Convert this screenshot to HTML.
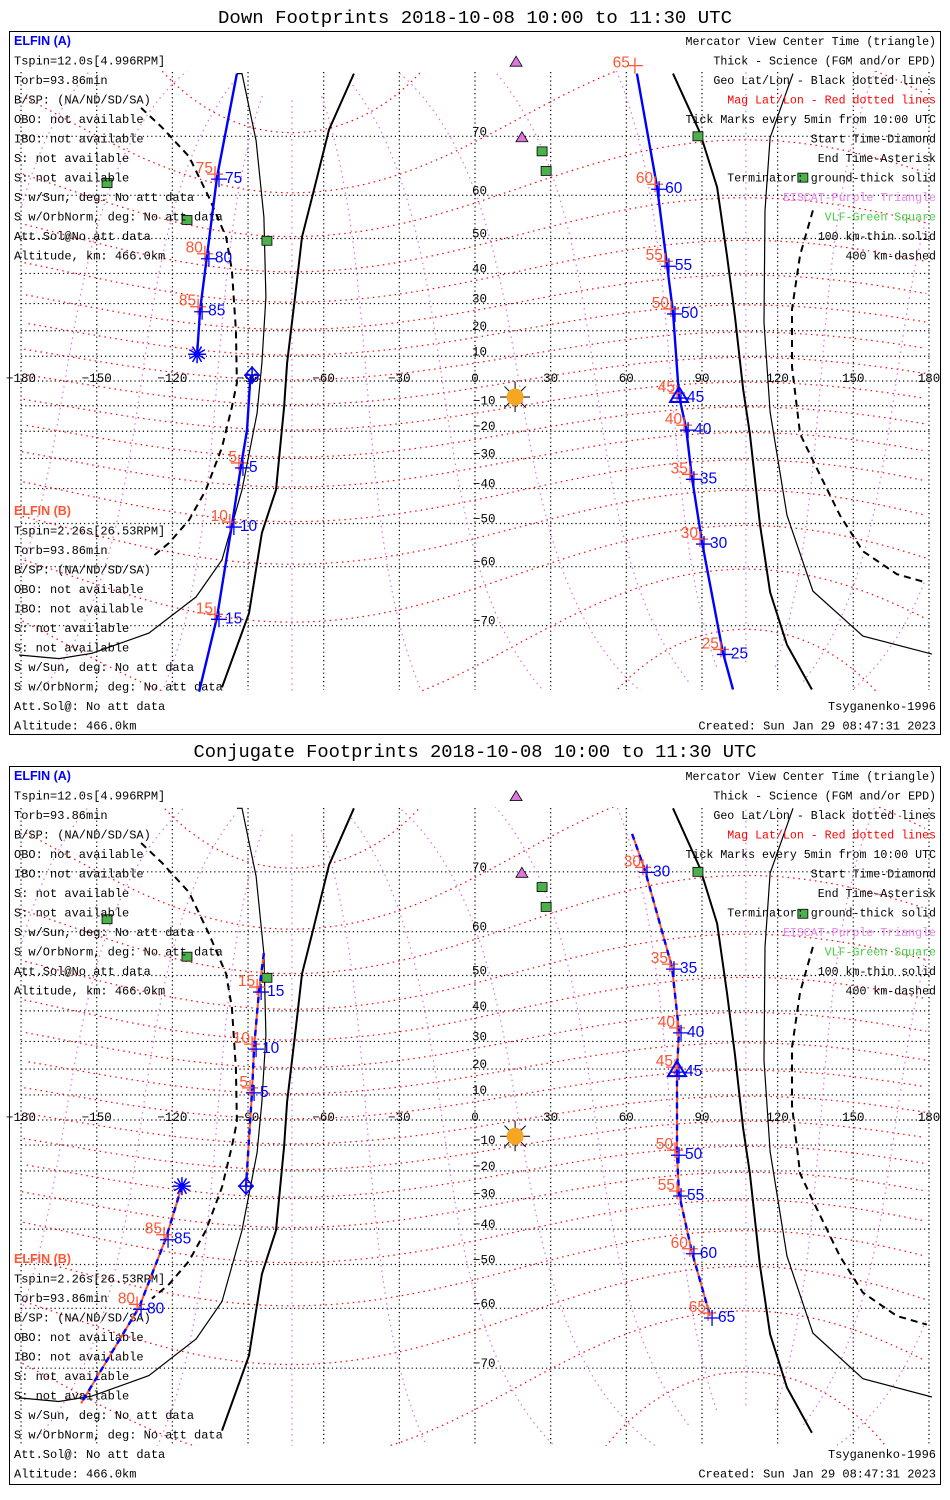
<!DOCTYPE html>
<html><head><meta charset="utf-8"><title>ELFIN Footprints</title>
<style>
html,body{margin:0;padding:0;background:#fff;}
svg{display:block;font-family:"Liberation Mono",monospace;}
</style></head>
<body>
<svg id="chart" width="950" height="1500" viewBox="0 0 950 1500" xmlns="http://www.w3.org/2000/svg">
<defs>
<clipPath id="clip0"><rect x="19" y="71" width="913" height="620"/></clipPath>
<clipPath id="clip1"><rect x="19" y="807" width="913" height="639"/></clipPath>
</defs>
<rect x="0" y="0" width="950" height="1500" fill="#fff"/>
<rect x="9.5" y="31.5" width="931" height="703" fill="none" stroke="#000" stroke-width="1"/>
<rect x="9.5" y="766.5" width="931" height="718" fill="none" stroke="#000" stroke-width="1"/>
<text x="475" y="23" text-anchor="middle" font-size="18.5" textLength="514" lengthAdjust="spacingAndGlyphs">Down Footprints 2018-10-08 10:00 to 11:30 UTC</text>
<text x="475" y="757" text-anchor="middle" font-size="18.5" textLength="563" lengthAdjust="spacingAndGlyphs">Conjugate Footprints 2018-10-08 10:00 to 11:30 UTC</text>
<g id="layer"></g>
</svg>
<script>
// ---------- data (geographic lon/lat) ----------
const lonTicks = [-180,-150,-120,-90,-60,-30,0,30,60,90,120,150,180];
const latTicks = [-70,-60,-50,-40,-30,-20,-10,0,10,20,30,40,50,60,70];

// terminator & altitude curves
const termGroundLon = [-48,-57.9,-64.6,-68.6,-71,-74.5,-75.7,-78.9,-84.5,-89.6,-100.3];
const termGroundLat = [77.1,70.9,59.6,50.4,34.7,7.3,-10.5,-40.4,-52.4,-68.2,-77];
const term100Lon = [-94.4,-92.4,-86.8,-83.7,-82.9,-84.5,-86.4,-92.4,-100.3,-110.6,-129.3,-151.9,-165,-180.8];
const term100Lat = [77.1,77.1,69.4,55.3,32.2,7.3,-12.9,-40.4,-58.6,-65.6,-71,-73.5,-74.1,-73.7];
const term400Lon = [-132.4,-124.1,-113.4,-105.5,-98.7,-96.4,-94.8,-94.4,-96.4,-100.3,-106.7,-113.4,-121.3,-128.1];
const term400Lat = [73.6,71.2,67,59.6,50.4,41,20.3,-0.8,-10.5,-26,-40.4,-49.1,-54.8,-58];
const termGroundRLon = [78.5,89.2,96,99.9,103.1,106.3,109,113,117,123.7,133.6];
const termGroundRLat = [77.1,70.5,61.6,45.5,25.2,-3.2,-21,-50.3,-64.8,-72.5,-77.2];
const term100RLon = [126.1,117,115,114.6,117,123.7,134,153.8,181.2];
const term100RLat = [77.1,69.8,56.8,23.2,-12.5,-47.8,-64.6,-71.4,-73.6];
const term400RLon = [134,128.9,125.7,125.7,128.9,134,144.7,153.8,167.3,179.2];
const term400RLat = [56.8,45.5,28,5.7,-21,-30.7,-47.8,-56.7,-61.5,-63.1];

// Down footprints tracks
const downA1Lon = [-94.4,-102.3,-106.3,-109,-110.2];
const downA1Lat = [77.1,63.5,45,27.8,10.8];
const downA2Lon = [-88.4,-89.2,-90.4,-92.8,-96.4,-102.3,-109.4];
const downA2Lat = [2.4,-0.8,-19.6,-32.6,-50.4,-68.8,-77.4];
const downA3Lon = [64.2,72.2,76.1,78.5,80.9,83.7,86,90,98.3,102.3];
const downA3Lat = [77.1,61.6,42.8,27,-6.1,-18.8,-36.4,-54.6,-73.4,-77.2];
const downTickLon = [-102.3,-106.3,-109,-92.8,-96.4,-102.3,72.2,76.1,78.5,80.9,83.7,86,90,98.3];
const downTickLat = [63.5,45,27.8,-32.6,-50.4,-68.8,61.6,42.8,27,-6.1,-18.8,-36.4,-54.6,-73.4];
const downTickLbl = ["75","80","85","5","10","15","60","55","50","45","40","35","30","25"];

// Conjugate footprints tracks
const conjA1Lon = [-83.7,-85.6,-87.6,-88.4,-90.8];
const conjA1Lat = [55.4,46.1,28,11.6,-25.6];
const conjA2Lon = [-116.2,-122.5,-133.2,-156.2];
const conjA2Lat = [-25.6,-42.6,-59.8,-74.3];
const conjA3Lon = [62.3,67.4,78.1,80.9,80.1,80.1,80.9,86,93.2];
const conjA3Lat = [74.6,70.2,52.1,33.6,19.6,-13.2,-28.4,-46.6,-61.5];
const conjTickLon = [-85.6,-87.6,-88.4,-122.5,-133.2,67.4,78.1,80.9,80.1,80.1,80.9,86,93.2];
const conjTickLat = [46.1,28,11.6,-42.6,-59.8,70.2,52.1,33.6,19.6,-13.2,-28.4,-46.6,-61.5];
const conjTickLbl = ["15","10","5","85","80","30","35","40","45","50","55","60","65"];

// ground stations
const vlfLon = [-145.9,-114.2,-82.5,26.6,28.2,88.4,130];
const vlfLat = [62.4,54.6,49.4,67.8,64.6,70,63.4];
const eiscatLon = [16.3,18.6];
const eiscatLat = [78.1,69.8];
const sunLon = 15.9, sunLat = -6.5;

const leftA = ["Tspin=12.0s[4.996RPM]","Torb=93.86min","B/SP: (NA/ND/SD/SA)","OBO: not available","IBO: not available","S: not available","S: not available","S w/Sun, deg: No att data","S w/OrbNorm, deg: No att data","Att.Sol@No att data","Altitude, km: 466.0km"];
const leftB = ["Tspin=2.26s[26.53RPM]","Torb=93.86min","B/SP: (NA/ND/SD/SA)","OBO: not available","IBO: not available","S: not available","S: not available","S w/Sun, deg: No att data","S w/OrbNorm, deg: No att data","Att.Sol@: No att data","Altitude: 466.0km"];
const legendLines = ["Mercator View Center Time (triangle)","Thick - Science (FGM and/or EPD)","Geo Lat/Lon - Black dotted lines","Mag Lat/Lon - Red dotted lines","Tick Marks every 5min from 10:00 UTC","Start Time-Diamond","End Time-Asterisk","Terminator: ground-thick solid","EISCAT-Purple Triangle","VLF-Green Square","100 km-thin solid","400 km-dashed"];
const legendColors = ["#000","#000","#000","#f00","#000","#000","#000","#000","#ee82ee","#4c4","#000","#000"];

// ---------- rendering ----------
const NS = "http://www.w3.org/2000/svg";
const layer = document.getElementById("layer");
const panels = [
  {y0:381,k:141,top:72,bot:690,clip:"url(#clip0)",base:31},
  {y0:1120,k:143,top:808,bot:1445,clip:"url(#clip1)",base:766}
];
function xS(lon){return 475 + lon*2.522;}
function yS(p,lat){const r=Math.min(Math.max(lat,-85),85)*Math.PI/180;return p.y0 - p.k*Math.log(Math.tan(Math.PI/4 + r/2));}
function mk(tag, attrs, parent){
  const e=document.createElementNS(NS,tag);
  for(const a in attrs) e.setAttribute(a, attrs[a]);
  (parent||layer).appendChild(e); return e;
}
function poly(p, lons, lats, style, name, parent){
  let d="";
  for(let i=0;i<lons.length;i++) d += (i?"L":"M") + xS(lons[i]).toFixed(1) + "," + yS(p,lats[i]).toFixed(1);
  const e = mk("path", Object.assign({d:d, fill:"none"}, style), parent);
  
  
  return e;
}
function txt(x,y,s,attrs,name,parent){
  const e = mk("text", Object.assign({x:x,y:y},attrs), parent);
  e.textContent = s;
  
  
  return e;
}
// dipole mag -> geo
const pLat=80.5*Math.PI/180, pLon=-72.6*Math.PI/180;
const Z=[Math.cos(pLat)*Math.cos(pLon),Math.cos(pLat)*Math.sin(pLon),Math.sin(pLat)];
let Y=[-Z[1],Z[0],0]; const yn=Math.hypot(Y[0],Y[1]); Y=[Y[0]/yn,Y[1]/yn,0];
const X=[Y[1]*Z[2]-Y[2]*Z[1], Y[2]*Z[0]-Y[0]*Z[2], Y[0]*Z[1]-Y[1]*Z[0]];
function m2g(mlat,mlon){
  const a=mlat*Math.PI/180,b=mlon*Math.PI/180;
  const c=[Math.cos(a)*Math.cos(b),Math.cos(a)*Math.sin(b),Math.sin(a)];
  const v=[0,1,2].map(i=>c[0]*X[i]+c[1]*Y[i]+c[2]*Z[i]);
  return [Math.atan2(v[1],v[0])*180/Math.PI, Math.asin(v[2])*180/Math.PI];
}
function magPath(p, pts){
  let d="", prev=null;
  pts.forEach(q=>{
    const x=xS(q[0]), y=yS(p,q[1]);
    d += (prev===null || Math.abs(q[0]-prev)>180 ? "M":"L") + x.toFixed(1)+","+y.toFixed(1);
    prev=q[0];
  });
  return d;
}

panels.forEach((p, pi)=>{
  const g = mk("g", {"clip-path":p.clip});
  
  
  lonTicks.forEach(lon=>{
    const l = mk("line",{x1:xS(lon),x2:xS(lon),y1:p.top,y2:p.bot,stroke:"#000","stroke-width":1.2,"stroke-dasharray":"1.2 3"}, g);
    
    
  });
  latTicks.forEach(lat=>{
    const l = mk("line",{x1:xS(-180),x2:xS(180)+3,y1:yS(p,lat),y2:yS(p,lat),stroke:"#000","stroke-width":1.2,"stroke-dasharray":"1.2 3"}, g);
    
    
  });
  for(let ml=-80; ml<=80; ml+=10){
    const pts=[]; for(let m=0;m<=360;m+=3) pts.push(m2g(ml,m));
    pts.sort((a,b)=>a[0]-b[0]);
    const e = mk("path",{d:magPath(p,pts),fill:"none",stroke:"#f00","stroke-width":1.2,"stroke-dasharray":"1.5 4"}, g);
    
    
  }
  for(let mlo=0; mlo<360; mlo+=30){
    const pts=[]; for(let ml=-84; ml<=84; ml+=2) pts.push(m2g(ml,mlo));
    const e = mk("path",{d:magPath(p,pts),fill:"none",stroke:"#e070e0","stroke-width":1.2,"stroke-dasharray":"1.5 4"}, g);
    
    
  }
  poly(p, termGroundLon, termGroundLat, {stroke:"#000","stroke-width":2}, "terminator-ground-west", g);
  poly(p, termGroundRLon, termGroundRLat, {stroke:"#000","stroke-width":2}, "terminator-ground-east", g);
  poly(p, term100Lon, term100Lat, {stroke:"#000","stroke-width":1.2}, "terminator-100km-west", g);
  poly(p, term100RLon, term100RLat, {stroke:"#000","stroke-width":1.2}, "terminator-100km-east", g);
  poly(p, term400Lon, term400Lat, {stroke:"#000","stroke-width":2,"stroke-dasharray":"7 5"}, "terminator-400km-west", g);
  poly(p, term400RLon, term400RLat, {stroke:"#000","stroke-width":2,"stroke-dasharray":"7 5"}, "terminator-400km-east", g);

  lonTicks.forEach(lon=>{
    txt(xS(lon), p.y0+1, (lon<0?"\u2212":"")+Math.abs(lon), {"text-anchor":"middle","font-size":12.5,"fill":"#000"}, "lon-tick-label");
  });
  latTicks.forEach(lat=>{
    if(lat===0) return;
    txt(lat<0?473:472, yS(p,lat)-1, (lat<0?"\u2212":"")+Math.abs(lat), {"font-size":12.5,"fill":"#000"}, "lat-tick-label");
  });

  vlfLon.forEach((lon,i)=>{
    const x=xS(lon), y=yS(p,vlfLat[i]);
    const r = mk("rect",{x:x-5,y:y-4.5,width:10,height:9,fill:"#4cb04c",stroke:"#000","stroke-width":0.8});
    
    
  });
  eiscatLon.forEach((lon,i)=>{
    const x=xS(lon), y=yS(p,eiscatLat[i]);
    const t = mk("path",{d:`M${x},${y-6}L${x+6},${y+4}L${x-6},${y+4}Z`,fill:"#dd77dd",stroke:"#000","stroke-width":0.8});
    
    
  });
  const sx=xS(sunLon), sy=yS(p,sunLat);
  const sg = mk("g",{});
  
  
  for(let a=0;a<360;a+=45){const r=a*Math.PI/180;mk("line",{x1:sx+8*Math.cos(r),y1:sy+8*Math.sin(r),x2:sx+15*Math.cos(r),y2:sy+15*Math.sin(r),stroke:"#000","stroke-width":1},sg);}
  mk("circle",{cx:sx,cy:sy,r:8.5,fill:"#f5a623"},sg);

  const b=p.base, rowH=19.5, yA=b+14;
  txt(14, yA, "ELFIN (A)", {"font-size":12.5,"font-weight":"bold","fill":"#0000ff","font-family":"Liberation Sans, sans-serif"}, "elfin-a-title");
  leftA.forEach((s,i)=>txt(14, yA+rowH*(i+1), s, {"font-size":12,"fill":"#000"}, "elfin-a-info"));
  const bStart = pi? 1263 : 515;
  txt(14, bStart, "ELFIN (B)", {"font-size":12.5,"font-weight":"bold","fill":"#ff5533","font-family":"Liberation Sans, sans-serif"}, "elfin-b-title");
  leftB.forEach((s,i)=>txt(14, bStart+rowH*(i+1), s, {"font-size":12,"fill":"#000"}, "elfin-b-info"));
  legendLines.forEach((s,i)=>txt(936, yA+rowH*i, s, {"font-size":11.6,"fill":legendColors[i],"text-anchor":"end"}, "legend-line"));
  txt(936, bStart+rowH*10, "Tsyganenko-1996", {"font-size":12,"text-anchor":"end"}, "model-label");
  txt(936, bStart+rowH*11, "Created: Sun Jan 29 08:47:31 2023", {"font-size":12,"text-anchor":"end"}, "created-label");
});

function cross(x,y,col,n){
  const e = mk("path",{d:`M${x-8},${y}L${x+8},${y}M${x},${y-8}L${x},${y+8}`,stroke:col,"stroke-width":1.3,fill:"none"});
  
  
}
function ticks(p, lons, lats, lbls){
  lons.forEach((lon,i)=>{
    const x=xS(lon), y=yS(p,lats[i]);
    cross(x-2,y-3,"#ff5533","tick-mark-b");
    cross(x+2,y+2,"#0000ff","tick-mark-a");
    txt(x-4, y-4, lbls[i], {"font-size":15.5,"fill":"#ff5533","text-anchor":"end","font-family":"Liberation Sans, sans-serif"}, "tick-label-b");
    txt(x+8, y+6, lbls[i], {"font-size":15.5,"fill":"#0000ff","font-family":"Liberation Sans, sans-serif"}, "tick-label-a");
  });
}
function triangle(p,lon,lat){
  const x=xS(lon), y=yS(p,lat);
  const e = mk("path",{d:`M${x},${y-9}L${x+9},${y+6}L${x-9},${y+6}Z`,fill:"none",stroke:"#0000ff","stroke-width":2});
  
  
}
function diamond(p,lon,lat){
  const x=xS(lon), y=yS(p,lat);
  const e = mk("path",{d:`M${x},${y-8}L${x+7},${y}L${x},${y+8}L${x-7},${y}ZM${x-8},${y}L${x+8},${y}M${x},${y-9}L${x},${y+9}`,fill:"none",stroke:"#0000ff","stroke-width":1.5});
  
  
}
function asterisk(p,lon,lat){
  const x=xS(lon), y=yS(p,lat);
  let d=""; for(let a=0;a<180;a+=30){const r=a*Math.PI/180;d+=`M${x-9*Math.cos(r)},${y-9*Math.sin(r)}L${x+9*Math.cos(r)},${y+9*Math.sin(r)}`;}
  const e = mk("path",{d:d,fill:"none",stroke:"#0000ff","stroke-width":1.5});
  
  
}

const P0=panels[0], P1=panels[1];
poly(P0, downA1Lon, downA1Lat, {stroke:"#0000ff","stroke-width":2.4}, "down-track-west-north");
poly(P0, downA2Lon, downA2Lat, {stroke:"#0000ff","stroke-width":2.4}, "down-track-west-south");
poly(P0, downA3Lon, downA3Lat, {stroke:"#0000ff","stroke-width":2.4}, "down-track-east");
ticks(P0, downTickLon, downTickLat, downTickLbl);
cross(xS(downA3Lon[0])-2, yS(P0,downA3Lat[0])-8, "#ff5533", "tick-mark-b");
txt(xS(downA3Lon[0])-7, yS(P0,downA3Lat[0])-6, "65", {"font-size":15.5,"fill":"#ff5533","text-anchor":"end","font-family":"Liberation Sans, sans-serif"}, "tick-label-b");
triangle(P0, downA3Lon[4], downA3Lat[4]);
diamond(P0, downA2Lon[0], downA2Lat[0]);
asterisk(P0, downA1Lon[4], downA1Lat[4]);

[[conjA1Lon,conjA1Lat,"conj-track-west-north"],[conjA2Lon,conjA2Lat,"conj-track-west-south"],[conjA3Lon,conjA3Lat,"conj-track-east"]].forEach(t=>{
  poly(P1, t[0], t[1], {stroke:"#ff5533","stroke-width":2}, t[2]+"-b");
  poly(P1, t[0], t[1], {stroke:"#0000ff","stroke-width":2.4,"stroke-dasharray":"6 5"}, t[2]);
});
ticks(P1, conjTickLon, conjTickLat, conjTickLbl);
triangle(P1, conjA3Lon[4], conjA3Lat[4]);
diamond(P1, conjA1Lon[4], conjA1Lat[4]);
asterisk(P1, conjA2Lon[0], conjA2Lat[0]);
</script>
</body></html>
